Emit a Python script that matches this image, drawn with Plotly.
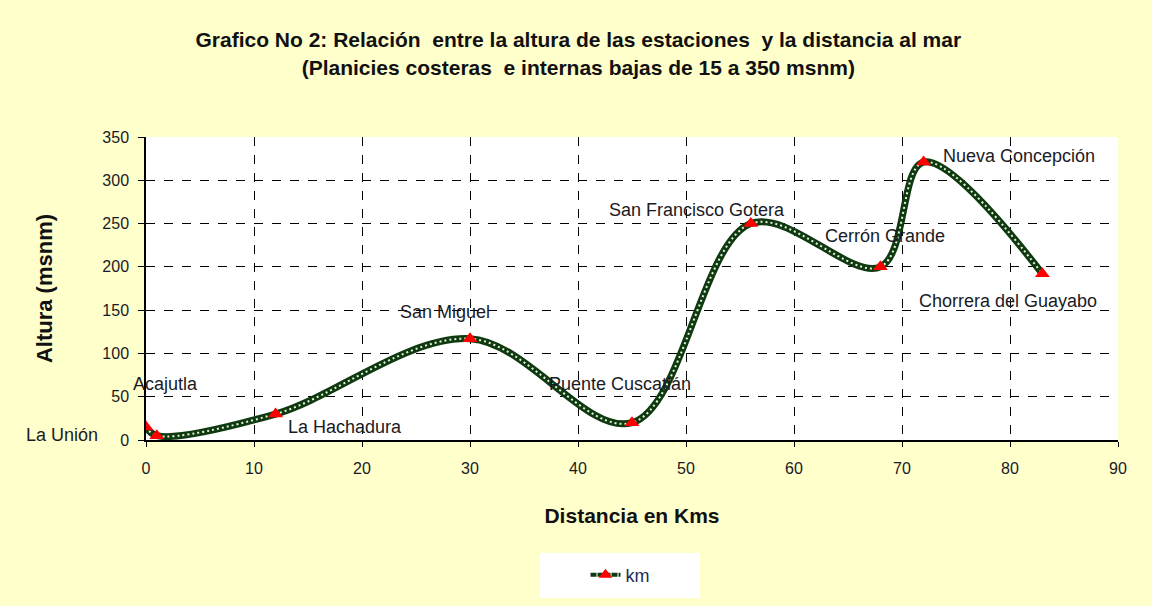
import plotly.graph_objects as go

# Estaciones: distancia al mar (km) y altura (msnm)
estaciones = ["La Unión", "Acajutla", "La Hachadura", "San Miguel", "Puente Cuscatlán",
              "San Francisco Gotera", "Cerrón Grande", "Nueva Concepción", "Chorrera del Guayabo"]
distancia = [0, 1, 12, 30, 45, 56, 68, 72, 83]
altura = [15, 5, 30, 117, 20, 250, 200, 321, 192]

# desplazamiento de cada etiqueta respecto a su punto (px)
label_dx = [-84, 9, 69, -25, -12, -54, 5, 95, -34]
label_dy = [8, -52, 13, -27, -39, -14, -31, -6, 27]

x_ticks = list(range(0, 91, 10))
y_ticks = list(range(0, 351, 50))

BG = "#FFFFCC"
TXT = "#1A1A24"
FONT = "Liberation Sans, Arial, sans-serif"
NARROW = "Liberation Sans Narrow, Arial Narrow, Liberation Sans, Arial, sans-serif"

fig = go.Figure()

# trazo grueso verde oscuro
fig.add_trace(go.Scatter(
    x=distancia, y=altura, mode="lines",
    line=dict(color="#0F3A0F", width=7, shape="spline", smoothing=1.0),
    showlegend=False, hoverinfo="skip"))
# punteado blanco dentro del trazo
fig.add_trace(go.Scatter(
    x=distancia, y=altura, mode="lines",
    line=dict(color="#E8F0E0", width=2, shape="spline", smoothing=1.0, dash="2px,3px"),
    showlegend=False, hoverinfo="skip"))
# marcadores triangulares
fig.add_trace(go.Scatter(
    x=distancia, y=altura, mode="markers", name="km",
    marker=dict(symbol="triangle-up", color="#FF0000", size=13),
    showlegend=False))
# entrada de la leyenda
fig.add_trace(go.Scatter(
    x=[None], y=[None], mode="lines+markers", name="km",
    line=dict(color="#0F3A0F", width=4, dash="6px,1px"),
    marker=dict(symbol="triangle-up", color="#FF0000", size=12)))

for name, xv, yv, dx, dy in zip(estaciones, distancia, altura, label_dx, label_dy):
    fig.add_annotation(x=xv, y=yv, text=name, showarrow=False,
                       xshift=dx, yshift=-dy,
                       font=dict(family=FONT, size=18, color=TXT))

# caja blanca de la leyenda
fig.add_shape(type="rect", xref="paper", yref="paper",
              x0=(540 - 146) / 972, x1=(700 - 146) / 972,
              y0=(440 - 553) / 303, y1=(440 - 598) / 303,
              fillcolor="white", line=dict(width=0), layer="below")

fig.update_layout(
    width=1152, height=606,
    paper_bgcolor=BG, plot_bgcolor="white",
    margin=dict(l=146, r=34, t=137, b=166),
    title=dict(
        text="<b>Grafico No 2: Relación  entre la altura de las estaciones  y la distancia al mar<br>"
             "(Planicies costeras  e internas bajas de 15 a 350 msnm)</b>",
        x=0.502, xanchor="center", y=0.922, yanchor="top",
        font=dict(family=NARROW, size=21, color="#111111")),
    font=dict(family=FONT, size=16, color=TXT),
    legend=dict(orientation="h", x=(620 - 146) / 972, xanchor="center",
                y=(440 - 575) / 303, yanchor="middle",
                bgcolor="rgba(0,0,0,0)", font=dict(family=FONT, size=18, color="#1F2A5A")),
    showlegend=True,
)

fig.update_xaxes(
    range=[0, 90], tickvals=x_ticks, ticks="outside", ticklen=5, tickcolor="black",
    ticklabelstandoff=8,
    showline=True, linecolor="black", linewidth=1.5,
    showgrid=True, gridcolor="black", griddash="dash", gridwidth=1,
    zeroline=False, tickfont=dict(size=16, color=TXT),
    title=dict(text="<b>Distancia en Kms</b>", font=dict(size=21, color="#111111"), standoff=32))
fig.update_yaxes(
    range=[0, 350], tickvals=y_ticks, ticks="outside", ticklen=6, tickcolor="black",
    ticklabelstandoff=6,
    showline=True, linecolor="black", linewidth=1.5,
    showgrid=True, gridcolor="black", griddash="dash", gridwidth=1,
    zeroline=False, tickfont=dict(size=16, color=TXT),
    title=dict(text="<b>Altura (msnm)</b>", font=dict(size=22, color="#111111"), standoff=44))

fig.write_html("out.html")
